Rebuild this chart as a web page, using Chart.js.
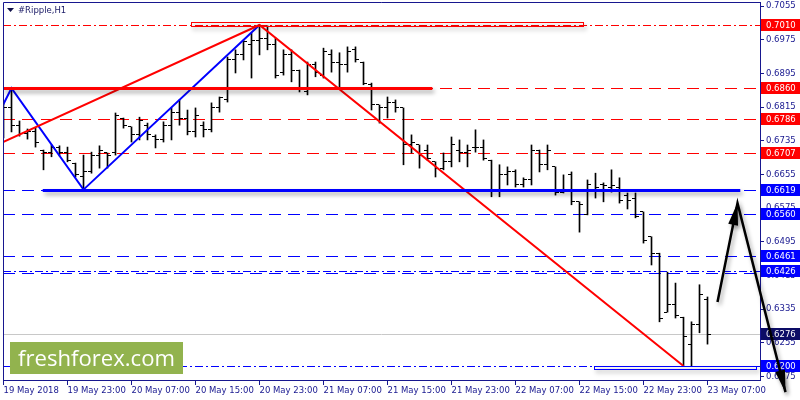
<!DOCTYPE html>
<html><head><meta charset="utf-8">
<script src="https://cdn.jsdelivr.net/npm/chart.js@4.4.0/dist/chart.umd.min.js"></script>
<style>html,body{margin:0;padding:0;background:#fff}#wrap{width:800px;height:400px}</style>
</head><body><div id="wrap"><canvas id="c" width="800" height="400"></canvas></div>
<script>
// ---- data (Ripple H1, one bar per hour, 19 May 15:00 .. 23 May 07:00) ----
const opens = [0.6796,0.6815,0.6772,0.6753,0.6758,0.6713,0.6706,0.6720,0.6708,0.6682,
0.6651,0.6661,0.6699,0.6706,0.6706,0.6789,0.6768,0.6749,0.6772,0.6744,
0.6737,0.6772,0.6803,0.6789,0.6756,0.6772,0.6761,0.6813,0.6832,0.6927,
0.6939,0.6963,0.6974,0.6979,0.6963,0.6898,0.6939,0.6903,0.6851,0.6915,
0.6891,0.6939,0.6922,0.6915,0.6951,0.6922,0.6868,0.6820,0.6813,0.6827,
0.6813,0.6725,0.6725,0.6713,0.6685,0.6670,0.6685,0.6713,0.6708,0.6718,
0.6720,0.6689,0.6618,0.6654,0.6661,0.6632,0.6642,0.6713,0.6678,0.6673,
0.6613,0.6654,0.6590,0.6559,0.6618,0.6630,0.6623,0.6623,0.6606,0.6599,
0.6566,0.6507,0.6468,0.6328,0.6345,0.6316,0.6250,0.6298,0.6357];
const highs = [0.6825,0.6860,0.6782,0.6763,0.6765,0.6713,0.6725,0.6723,0.6720,0.6682,
0.6701,0.6708,0.6723,0.6706,0.6801,0.6789,0.6768,0.6791,0.6777,0.6749,
0.6780,0.6813,0.6832,0.6808,0.6813,0.6780,0.6825,0.6839,0.6934,0.6951,
0.6974,0.6991,0.7010,0.7008,0.6979,0.6951,0.6951,0.6903,0.6922,0.6922,
0.6955,0.6951,0.6944,0.6958,0.6958,0.6922,0.6872,0.6820,0.6839,0.6832,
0.6813,0.6749,0.6725,0.6725,0.6685,0.6706,0.6744,0.6737,0.6725,0.6761,
0.6737,0.6689,0.6678,0.6673,0.6666,0.6647,0.6725,0.6713,0.6725,0.6673,
0.6654,0.6661,0.6590,0.6642,0.6658,0.6635,0.6666,0.6647,0.6611,0.6611,
0.6566,0.6507,0.6468,0.6423,0.6397,0.6316,0.6305,0.6393,0.6364];
const lows = [0.6742,0.6756,0.6746,0.6739,0.6720,0.6666,0.6697,0.6699,0.6685,0.6649,
0.6619,0.6658,0.6670,0.6670,0.6701,0.6765,0.6732,0.6737,0.6737,0.6718,
0.6732,0.6737,0.6772,0.6749,0.6744,0.6744,0.6756,0.6803,0.6827,0.6896,
0.6927,0.6884,0.6939,0.6951,0.6884,0.6891,0.6875,0.6851,0.6844,0.6887,
0.6884,0.6898,0.6860,0.6898,0.6922,0.6868,0.6808,0.6777,0.6789,0.6803,
0.6678,0.6706,0.6670,0.6689,0.6649,0.6666,0.6673,0.6685,0.6673,0.6708,
0.6689,0.6602,0.6602,0.6630,0.6625,0.6625,0.6630,0.6661,0.6666,0.6606,
0.6611,0.6583,0.6518,0.6559,0.6599,0.6590,0.6613,0.6587,0.6573,0.6552,
0.6492,0.6440,0.6305,0.6328,0.6314,0.6200,0.6200,0.6279,0.6252];
const closes = [0.6815,0.6772,0.6753,0.6758,0.6732,0.6706,0.6720,0.6708,0.6689,0.6654,
0.6661,0.6699,0.6713,0.6701,0.6796,0.6772,0.6751,0.6784,0.6749,0.6737,
0.6772,0.6803,0.6789,0.6756,0.6796,0.6761,0.6813,0.6837,0.6927,0.6939,
0.6970,0.6974,0.6979,0.6963,0.6891,0.6939,0.6903,0.6856,0.6915,0.6898,
0.6946,0.6922,0.6915,0.6946,0.6927,0.6872,0.6820,0.6813,0.6827,0.6813,
0.6725,0.6732,0.6701,0.6694,0.6670,0.6685,0.6725,0.6708,0.6713,0.6720,
0.6694,0.6618,0.6654,0.6661,0.6632,0.6642,0.6713,0.6678,0.6713,0.6613,
0.6618,0.6590,0.6583,0.6630,0.6623,0.6628,0.6628,0.6594,0.6594,0.6556,
0.6499,0.6468,0.6314,0.6345,0.6321,0.6271,0.6298,0.6369,0.6276];

const timeTickIndex = [0,8,16,24,32,40,48,56,64,72,80,88];
const timeTickLabels = ["19 May 2018","19 May 23:00","20 May 07:00","20 May 15:00","20 May 23:00","21 May 07:00","21 May 15:00","21 May 23:00","22 May 07:00","22 May 15:00","22 May 23:00","23 May 07:00"];
const priceTicks = [0.7055,0.6975,0.6895,0.6815,0.6735,0.6655,0.6575,0.6495,0.6415,0.6335,0.6255,0.6175];

// horizontal levels
const redLevels = [0.6860,0.6786,0.6707];
const blueLevels = [0.6619,0.6560,0.6461,0.6421];
const redDashDot = [0.7010];
const blueDashDot = [0.6426,0.6200];
const bidPrice = 0.6276;
const labelPrices = [0.7010,0.6860,0.6786,0.6707,0.6619,0.6560,0.6461,0.6426,0.6276,0.6200];
const labelKinds  = ['r','r','r','r','b','b','b','b','n','b'];

// drawn objects (bar index, price)
const redTrend = [[-0.0625,0.6732],[32,0.7010],[85,0.6200]];
const blueZigzag = [[-0.0625,0.6820],[1,0.6860],[10,0.6619],[32,0.7010]];
const thickRed = [[-0.0625,0.6860],[53.6,0.6860]];
const thickBlue = [[4.9,0.6619],[92.1,0.6619]];
const redRect = [[23.4,0.7016],[72.4,0.7008]];
const blueRect = [[73.75,0.6200],[94,0.6194]];
const arrowPath = [[89.25,0.6352],[91.75,0.6587],[97.75,0.6138]];

const X_MIN = -0.0625, X_MAX = 94.5625, Y_MIN = 0.61668, Y_MAX = 0.70646;
const NAVY = '#17178f';
const FONT = {family:'DejaVu Sans', size:8.5};

function arrowHead(ctx, fx, fy, tx, ty, len, half){
  const dx=tx-fx, dy=ty-fy, d=Math.hypot(dx,dy), ux=dx/d, uy=dy/d;
  const bx=tx-ux*len, by=ty-uy*len;
  ctx.beginPath(); ctx.moveTo(tx,ty);
  ctx.lineTo(bx-uy*half, by+ux*half); ctx.lineTo(bx+uy*half, by-ux*half);
  ctx.closePath(); ctx.fill();
}

const levelsPlugin = {
  id:'levels',
  beforeDatasetsDraw(chart){
    const {ctx, chartArea:a, scales:{x,y}} = chart;
    ctx.save();
    ctx.beginPath(); ctx.rect(a.left,a.top,a.right-a.left,a.bottom-a.top); ctx.clip();
    ctx.lineWidth = 1;
    const hline = (p, color, dash) => {
      const yy = Math.round(y.getPixelForValue(p)) + 0.5;
      ctx.strokeStyle = color; ctx.setLineDash(dash);
      ctx.beginPath(); ctx.moveTo(a.left, yy); ctx.lineTo(a.right, yy); ctx.stroke();
    };
    hline(bidPrice, '#c8c8c8', []);
    redLevels.forEach(p => hline(p, '#ff0000', [12,7]));
    blueLevels.forEach(p => hline(p, '#0000ff', [12,7]));
    redDashDot.forEach(p => hline(p, '#ff0000', [8,3,2,3]));
    blueDashDot.forEach(p => hline(p, '#0000ff', [8,3,2,3]));
    ctx.restore();
  },
  afterDatasetDraw(chart, args){
    if (args.index !== 0) return;
    const {ctx, chartArea:a, scales:{x,y}} = chart;
    ctx.save();
    ctx.beginPath(); ctx.rect(a.left,a.top,a.right-a.left,a.bottom-a.top); ctx.clip();
    ctx.fillStyle = '#000';
    for (let i=0;i<opens.length;i++){
      const px = x.getPixelForValue(i);
      const yo = Math.floor(y.getPixelForValue(opens[i]));
      const yc = Math.floor(y.getPixelForValue(closes[i]));
      ctx.fillRect(px-0.5-3, yo, 3, 1);
      ctx.fillRect(px+0.5, yc, 3, 1);
    }
    ctx.restore();
  },
  afterDatasetsDraw(chart){
    const {ctx, chartArea:a, scales:{x,y}} = chart;
    ctx.save();
    ctx.beginPath(); ctx.rect(a.left,a.top,a.right-a.left,a.bottom-a.top); ctx.clip();
    ctx.shadowColor = 'rgba(0,0,0,0.35)'; ctx.shadowBlur = 4; ctx.shadowOffsetX = 2; ctx.shadowOffsetY = 3;
    const seg = (pts, color, w) => {
      ctx.strokeStyle = color; ctx.lineWidth = w; ctx.setLineDash([]);
      const yy = Math.round(y.getPixelForValue(pts[0][1])) + 0.5;
      ctx.beginPath(); ctx.moveTo(x.getPixelForValue(pts[0][0]), yy); ctx.lineTo(x.getPixelForValue(pts[1][0]), yy); ctx.stroke();
    };
    seg(thickRed, '#ff0000', 3);
    seg(thickBlue, '#0000ff', 3);
    const rect = (r, color) => {
      const x0 = Math.round(x.getPixelForValue(r[0][0]))+0.5, x1 = Math.round(x.getPixelForValue(r[1][0]))+0.5;
      const y0 = Math.round(y.getPixelForValue(r[0][1]))+0.5, y1 = Math.round(y.getPixelForValue(r[1][1]))+0.5;
      ctx.strokeStyle = color; ctx.lineWidth = 1;
      ctx.strokeRect(x0, y0, x1-x0, y1-y0);
    };
    rect(redRect, '#ff0000');
    rect(blueRect, '#0000ff');
    ctx.restore();
  },
  afterDraw(chart){
    const {ctx, chartArea:a, scales:{x,y}} = chart;
    ctx.save();
    // frame left/top
    ctx.strokeStyle = NAVY; ctx.lineWidth = 1; ctx.setLineDash([]);
    ctx.beginPath();
    ctx.moveTo(a.left+0.5, a.bottom); ctx.lineTo(a.left+0.5, a.top+0.5); ctx.lineTo(a.right, a.top+0.5);
    ctx.stroke();
    // price labels
    ctx.font = '8.5px "DejaVu Sans"'; ctx.textBaseline = 'middle'; ctx.textAlign = 'left';
    const kindColor = {r:'#ff0000', b:'#0000ff', n:'#0c0c66'};
    labelPrices.forEach((p,i) => {
      const yy = Math.round(y.getPixelForValue(p));
      ctx.fillStyle = kindColor[labelKinds[i]];
      ctx.fillRect(a.right+1, yy-6, 800-a.right-1, 12);
      ctx.fillStyle = '#fff';
      ctx.fillText(p.toFixed(4), a.right+6, yy+0.5);
    });
    // title
    ctx.fillStyle = '#10104a';
    ctx.beginPath(); ctx.moveTo(7,8); ctx.lineTo(14,8); ctx.lineTo(10.5,12); ctx.closePath(); ctx.fill();
    ctx.fillStyle = '#20206a';
    ctx.font = '8.5px "DejaVu Sans"';
    ctx.fillText('#Ripple,H1', 18, 10.5);
    // watermark
    ctx.fillStyle = '#92b34e';
    ctx.fillRect(10, 342, 173, 32);
    ctx.fillStyle = '#ffffff';
    ctx.font = '21px "Open Sans"'; ctx.textBaseline = 'alphabetic';
    const txt = 'freshforex.com', w = ctx.measureText(txt).width;
    ctx.save(); ctx.translate(18, 366); ctx.scale(157/w, 1); ctx.fillText(txt, 0, 0); ctx.restore();
    // arrow
    const pts = arrowPath.map(p => [x.getPixelForValue(p[0]), y.getPixelForValue(p[1])]);
    ctx.shadowColor = 'rgba(0,0,0,0.35)'; ctx.shadowBlur = 4; ctx.shadowOffsetX = 2; ctx.shadowOffsetY = 3;
    ctx.strokeStyle = '#000'; ctx.fillStyle = '#000'; ctx.lineWidth = 2.5;
    ctx.beginPath(); ctx.moveTo(pts[0][0],pts[0][1]); ctx.lineTo(pts[1][0],pts[1][1]); ctx.lineTo(pts[2][0],pts[2][1]); ctx.stroke();
    arrowHead(ctx, pts[0][0],pts[0][1], pts[1][0],pts[1][1], 22, 5);
    arrowHead(ctx, pts[1][0],pts[1][1], pts[2][0],pts[2][1], 22, 5);
    ctx.restore();
  }
};

const toXY = arr => arr.map(p => ({x:p[0], y:p[1]}));

new Chart(document.getElementById('c'), {
  type:'bar',
  data:{ datasets:[
    {type:'bar', data: highs.map((h,i)=>({x:i, y:[lows[i], h]})), backgroundColor:'#000', barThickness:1, borderWidth:0, order:2},
    {type:'line', data: toXY(redTrend), borderColor:'#ff0000', borderWidth:2, pointRadius:0, tension:0, order:1},
    {type:'line', data: toXY(blueZigzag), borderColor:'#0000ff', borderWidth:2, pointRadius:0, tension:0, order:1}
  ]},
  options:{
    responsive:false, animation:false, devicePixelRatio:1,
    layout:{autoPadding:false, padding:{left:3, top:2, right:0, bottom:0}},
    plugins:{legend:{display:false}, tooltip:{enabled:false}},
    scales:{
      x:{type:'linear', min:X_MIN, max:X_MAX, offset:false,
        afterBuildTicks(s){ s.ticks = timeTickIndex.map(v=>({value:v})); },
        afterFit(s){ s.height = 20; s.paddingLeft = 0; s.paddingRight = 0; },
        ticks:{autoSkip:false, maxRotation:0, minRotation:0, align:'start', padding:1, color:NAVY, font:FONT,
          callback:(v)=>timeTickLabels[timeTickIndex.indexOf(v)]},
        grid:{drawOnChartArea:false, offset:false, tickLength:5, color:NAVY},
        border:{color:NAVY}},
      y:{type:'linear', position:'right', min:Y_MIN, max:Y_MAX,
        afterBuildTicks(s){ s.ticks = priceTicks.map(v=>({value:v})); },
        afterFit(s){ s.width = 40; s.paddingTop = 0; s.paddingBottom = 0; },
        ticks:{padding:2, color:NAVY, font:FONT, callback:(v)=>Number(v).toFixed(4)},
        grid:{drawOnChartArea:false, tickLength:4, color:NAVY},
        border:{color:NAVY}}
    }
  },
  plugins:[levelsPlugin]
});
</script>
</body></html>
